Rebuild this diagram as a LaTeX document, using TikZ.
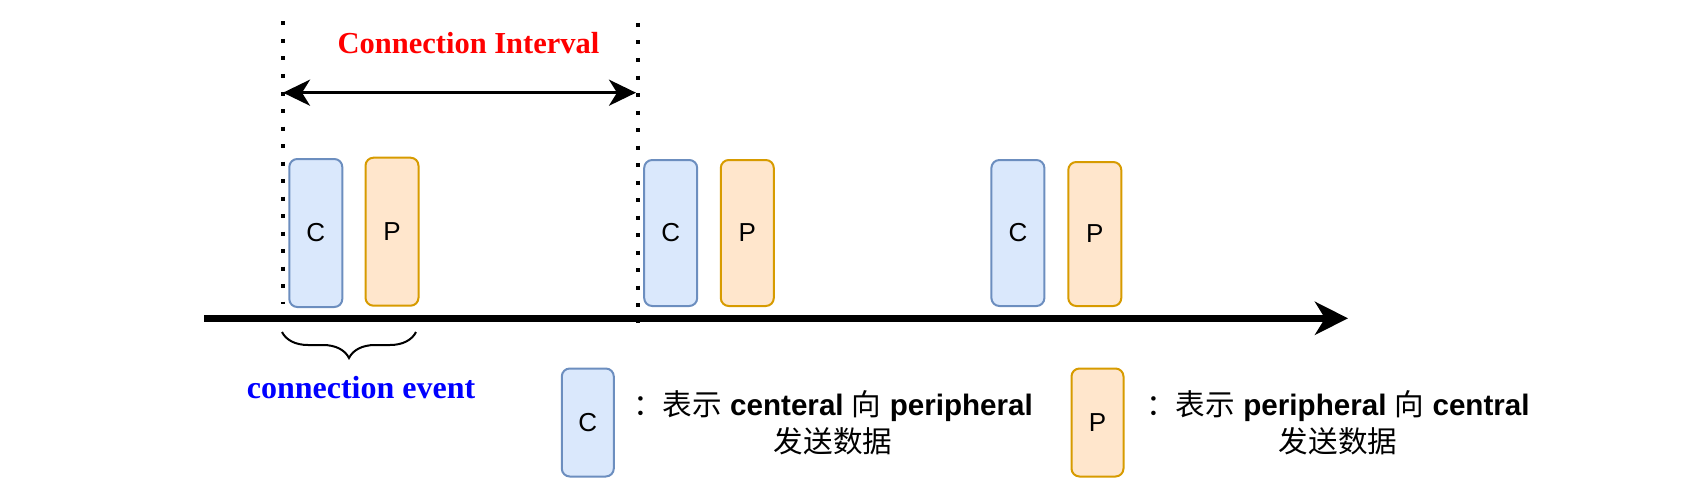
\documentclass[tikz,border=0pt]{standalone}
\usepackage{fontspec}
\setmainfont{Liberation Serif}
\setsansfont{Liberation Sans}
\newfontfamily\cjk{Noto Sans CJK SC}
\usetikzlibrary{arrows.meta,decorations.pathreplacing}

\definecolor{cfill}{HTML}{DAE8FC}
\definecolor{cline}{HTML}{6C8EBF}
\definecolor{pfill}{HTML}{FFE6CC}
\definecolor{pline}{HTML}{D79B00}

\tikzset{
  cbox/.style={draw=cline, fill=cfill, line width=2pt, rounded corners=8pt,
    minimum width=53pt, minimum height=148pt, inner sep=0pt,
    font=\sffamily\fontsize{26}{30}\selectfont},
  pbox/.style={cbox, draw=pline, fill=pfill},
  legc/.style={cbox, minimum width=52pt, minimum height=108pt},
  legp/.style={legc, draw=pline, fill=pfill},
  grenze/.style={line width=4pt, dash pattern=on 4pt off 13.5pt},
  legtext/.style={align=center, inner sep=0pt,
    font=\sffamily\fontsize{29.6}{37}\selectfont}
}

\begin{document}
\begin{tikzpicture}[x=1pt,y=-1pt]
    \useasboundingbox (0,0) rectangle (1686,503);

    % Grenzen des Intervalls
    \coordinate (g1o) at (283,21.5);
    \coordinate (g1u) at (283,304);
    \coordinate (g2o) at (638,23);
    \coordinate (g2u) at (638,323);
    \draw[grenze] (g1o) -- (g1u);
    \draw[grenze] (g2o) -- (g2u);

    % Connection Interval
    \coordinate (ia) at (283,92.7);
    \coordinate (ib) at (636,92.7);
    \draw[line width=3.3pt, {Stealth[length=27pt,width=26pt,inset=8pt]}-{Stealth[length=27pt,width=26pt,inset=8pt]}] (ia) -- (ib);
    \node[text=red, font=\bfseries\fontsize{30.5}{36}\selectfont] (ci) at (468.5,43) {Connection Interval};

    % Zeitachse
    \coordinate (t0) at (204,318.3);
    \coordinate (t1) at (1348,318.3);
    \draw[line width=6.5pt, -{Stealth[length=33pt,width=33pt,inset=10pt]}] (t0) -- (t1);

    % Verbindungsereignisse
    \node[cbox] (c1) at (315.8,233) {C};
    \node[pbox] (p1) at (392,231.7) {P};
    \node[cbox, minimum height=146pt] (c2) at (670.7,233) {C};
    \node[pbox, minimum height=146pt] (p2) at (747.3,233) {P};
    \node[cbox, minimum height=146pt] (c3) at (1017.9,233) {C};
    \node[pbox, minimum height=144pt] (p3) at (1094.8,234) {P};

    % Klammer
    \coordinate (k1) at (282,332);
    \coordinate (k2) at (416,332);
    \draw[line width=2pt, decorate, decoration={brace, mirror, amplitude=26pt}] (k1) -- (k2);
    \node[text=blue, font=\bfseries\fontsize{32}{38}\selectfont] (ce) at (361,388) {connection event};

    % Legende
    \node[legc] (lc) at (587.8,422.5) {C};
    \node[legp] (lp) at (1097.5,422.5) {P};
    \node[legtext] (tc) at (833,423) {{\cjk ：表示} \textbf{centeral} {\cjk 向} \textbf{peripheral}\\{\cjk 发送数据}};
    \node[legtext] (tp) at (1338,423) {{\cjk ：表示} \textbf{peripheral} {\cjk 向} \textbf{central}\\{\cjk 发送数据}};
\end{tikzpicture}
\end{document}
